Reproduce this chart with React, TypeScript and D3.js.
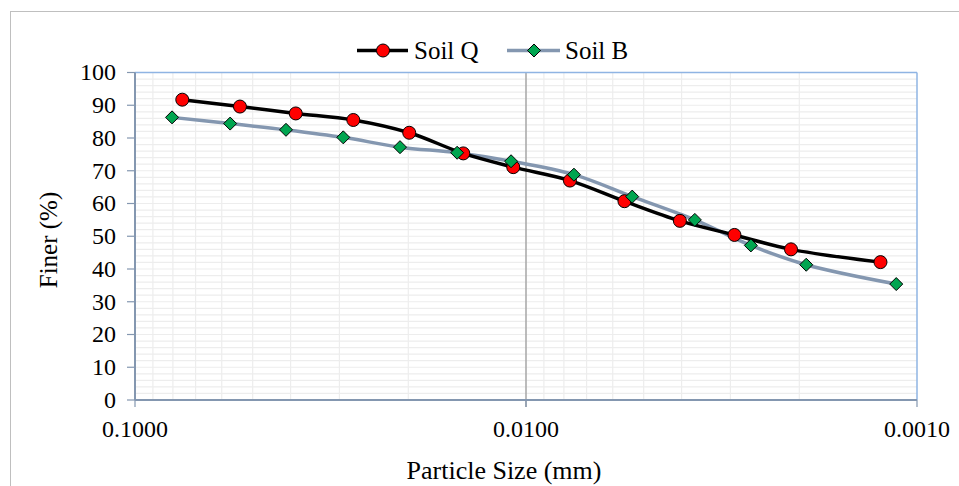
import React from "react";
import * as d3 from "d3";

const soilQSize = [0.0757, 0.0539, 0.0388, 0.02765, 0.01989, 0.01447, 0.01078, 0.00772, 0.0056, 0.00404, 0.00293, 0.0021, 0.00124];
const soilQFiner = [91.7, 89.6, 87.5, 85.5, 81.6, 75.3, 71.1, 67.0, 60.7, 54.7, 50.4, 46.0, 42.1];
const soilBSize = [0.0804, 0.0571, 0.0411, 0.02933, 0.021, 0.015, 0.01092, 0.00754, 0.00535, 0.0037, 0.00266, 0.00192, 0.00113];
const soilBFiner = [86.3, 84.4, 82.5, 80.2, 77.2, 75.5, 72.9, 68.8, 62.1, 55.0, 47.2, 41.3, 35.4];
const xTicks = [0.1, 0.01, 0.001];
const yTicks = [0, 10, 20, 30, 40, 50, 60, 70, 80, 90, 100];
const seriesNames = ["Soil Q", "Soil B"];

const W = 959;
const H = 486;
const FONT = "'Times New Roman', 'Liberation Serif', serif";

export default function App() {
  const left = 135, right = 917, top = 72.5, bottom = 400;
  const x = d3.scaleLog().domain([0.1, 0.001]).range([left, right]);
  const y = d3.scaleLinear().domain([0, 100]).range([bottom, top]);

  const minorX: number[] = [];
  [0.01, 0.001].forEach((base) => {
    for (let k = 2; k <= 9; k++) minorX.push(base * k);
  });
  const minorY = d3.range(2, 100, 2);

  const line = d3
    .line<[number, number]>()
    .x((d) => x(d[0]))
    .y((d) => y(d[1]))
    .curve(d3.curveCatmullRom.alpha(0.5));

  const qData: [number, number][] = soilQSize.map((s, i) => [s, soilQFiner[i]]);
  const bData: [number, number][] = soilBSize.map((s, i) => [s, soilBFiner[i]]);

  const diamond = (cx: number, cy: number, r: number) =>
    `M${cx},${cy - r}L${cx + r},${cy}L${cx},${cy + r}L${cx - r},${cy}Z`;

  const axisColor = "#8497B0";
  const borderBlue = "#8FB4E3";

  return (
    <svg
      width={W}
      height={H}
      style={{ position: "absolute", left: 0, top: 0, background: "#fff" }}
      fontFamily={FONT}
    >
      <rect x={10.5} y={11.5} width={W + 10} height={H + 10} fill="#fff" stroke="#BFBFBF" strokeWidth={1} />

      {/* grid */}
      {minorY.map((v) => (
        <line key={"gy" + v} x1={left} x2={right} y1={y(v)} y2={y(v)} stroke="#EDEDED" strokeWidth={1.2} />
      ))}
      {minorX.map((v) => (
        <line key={"gx" + v} x1={x(v)} x2={x(v)} y1={top} y2={bottom} stroke="#EDEDED" strokeWidth={1.2} />
      ))}
      <line x1={x(0.01)} x2={x(0.01)} y1={top} y2={bottom + 7} stroke="#A6A6A6" strokeWidth={1.5} />

      {/* plot border */}
      <line x1={left} x2={right} y1={top} y2={top} stroke={borderBlue} strokeWidth={1.5} />
      <line x1={right} x2={right} y1={top} y2={bottom} stroke={borderBlue} strokeWidth={1.5} />
      <line x1={left} x2={right} y1={bottom} y2={bottom} stroke={axisColor} strokeWidth={2} />
      <line x1={left} x2={left} y1={top} y2={bottom} stroke={axisColor} strokeWidth={2} />

      {/* y ticks */}
      {yTicks.map((v) => (
        <g key={"yt" + v}>
          <line x1={left - 8} x2={left} y1={y(v)} y2={y(v)} stroke={axisColor} strokeWidth={1.2} />
          <text x={116} y={y(v)} dy="0.33em" textAnchor="end" fontSize={24} fill="#000">
            {v}
          </text>
        </g>
      ))}
      {/* x ticks */}
      {xTicks.map((v) => (
        <g key={"xt" + v}>
          <line x1={x(v)} x2={x(v)} y1={bottom} y2={bottom + 7} stroke={axisColor} strokeWidth={1.2} />
          <text x={x(v)} y={437} textAnchor="middle" fontSize={24} fill="#000">
            {v.toFixed(4)}
          </text>
        </g>
      ))}

      {/* axis titles */}
      <text x={504} y={479} textAnchor="middle" fontSize={26} fill="#000">
        Particle Size (mm)
      </text>
      <text transform={`translate(57,240) rotate(-90)`} textAnchor="middle" fontSize={25} fill="#000">
        Finer (%)
      </text>

      {/* series */}
      <path d={line(bData) || ""} fill="none" stroke={axisColor} strokeWidth={3.5} />
      <path d={line(qData) || ""} fill="none" stroke="#000" strokeWidth={3.5} />
      {qData.map((d, i) => (
        <circle key={"q" + i} cx={x(d[0])} cy={y(d[1])} r={6.5} fill="#FF0000" stroke="#000" strokeWidth={1} />
      ))}
      {bData.map((d, i) => (
        <path key={"b" + i} d={diamond(x(d[0]), y(d[1]), 6.5)} fill="#00A550" stroke="#000" strokeWidth={1} />
      ))}

      {/* legend */}
      <line x1={357} x2={408} y1={50.5} y2={50.5} stroke="#000" strokeWidth={3.5} />
      <circle cx={383} cy={50.5} r={6.5} fill="#FF0000" stroke="#000" strokeWidth={1} />
      <text x={414} y={59} fontSize={25} fill="#000">
        {seriesNames[0]}
      </text>
      <line x1={507} x2={560} y1={50.5} y2={50.5} stroke={axisColor} strokeWidth={3.5} />
      <path d={diamond(534, 50.5, 6.5)} fill="#00A550" stroke="#000" strokeWidth={1} />
      <text x={565} y={59} fontSize={25} fill="#000">
        {seriesNames[1]}
      </text>
    </svg>
  );
}
